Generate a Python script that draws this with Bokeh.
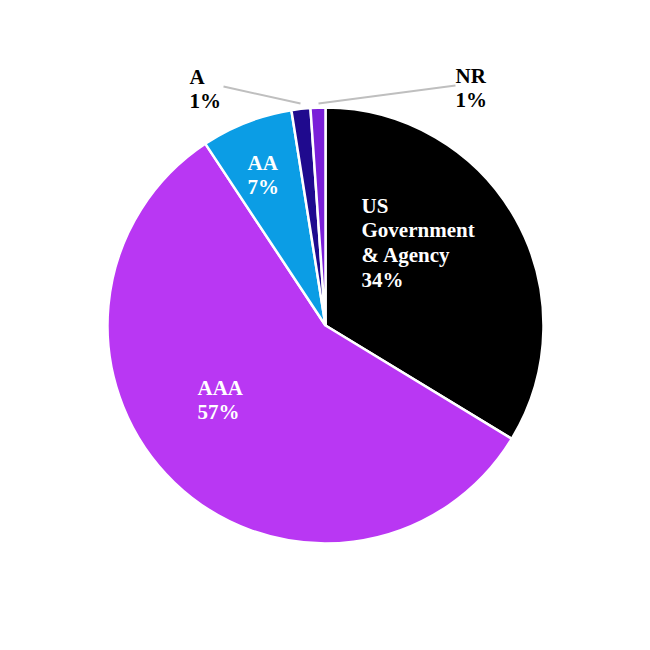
import math
from bokeh.plotting import figure
from bokeh.models import Range1d, ColumnDataSource
from bokeh.core.properties import value
from bokeh.embed import file_html
from bokeh.resources import INLINE

# data (clockwise from 12 o'clock)
categories = ["US\nGovernment\n& Agency", "AAA", "AA", "A", "NR"]
shares = [33.7, 57.0, 6.8, 1.4, 1.1]
colors = ["#000000", "#B937F3", "#0B9DE5", "#1F0A8E", "#7A1FD8"]
label_colors = ["white", "white", "white", "black", "black"]

# layout (page pixel coordinates: y measured from top)
CX, CY, R = 325, 325, 218
label_pos = [(361, 193), (197, 375), (247, 150), (189, 64), (455, 63)]
leaders = [None, None, None, ((223, 86), (300, 103)), ((455, 85), (318, 103))]

def Y(py):
    return 634 - py

p = figure(width=634, height=634, output_backend="svg", toolbar_location=None,
           x_range=Range1d(0, 634), y_range=Range1d(0, 634), min_border=0)
p.axis.visible = False
p.grid.visible = False
p.outline_line_color = None
p.background_fill_color = "white"
p.border_fill_color = "white"

total = sum(shares)
starts, ends = [], []
cum = 0.0
for s in shares:
    starts.append(math.pi / 2 - 2 * math.pi * cum / total)
    cum += s
    ends.append(math.pi / 2 - 2 * math.pi * cum / total)

src = ColumnDataSource(dict(start=starts, end=ends, color=colors))
p.wedge(x=CX, y=Y(CY), radius=R, start_angle="start", end_angle="end",
        direction="clock", fill_color="color", line_color="white", line_width=2.5,
        source=src)

for lead in leaders:
    if lead:
        (x0, y0), (x1, y1) = lead
        p.line([x0, x1], [Y(y0), Y(y1)], line_color="#BFBFBF", line_width=2)

texts = [f"{c}\n{round(s)}%" for c, s in zip(categories, shares)]
tsrc = ColumnDataSource(dict(x=[lp[0] for lp in label_pos], y=[Y(lp[1]) for lp in label_pos],
                             text=texts, color=label_colors))
p.text(x="x", y="y", text="text", text_color="color", source=tsrc,
       text_font=value("Liberation Serif"), text_font_style="bold",
       text_font_size="21px", text_align="left", text_baseline="top",
       text_line_height=1.03)

open("out.html", "w").write(file_html(p, INLINE))
